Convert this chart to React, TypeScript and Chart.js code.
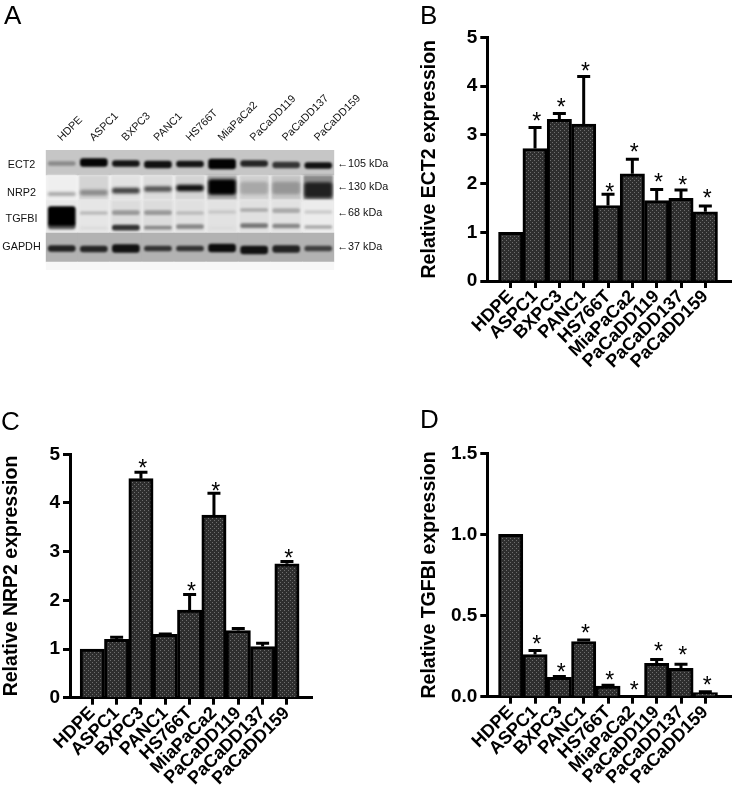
import React, { useEffect, useRef } from "react";
import { Chart, registerables } from "chart.js";

Chart.register(...registerables);

const cellLines = ["HDPE", "ASPC1", "BXPC3", "PANC1", "HS766T", "MiaPaCa2", "PaCaDD119", "PaCaDD137", "PaCaDD159"];

const ect2Values = [1, 2.72, 3.32, 3.22, 1.55, 2.2, 1.65, 1.7, 1.42];
const ect2ErrorTops = [1, 3.15, 3.44, 4.2, 1.78, 2.5, 1.88, 1.87, 1.54];
const ect2Stars = [null, 3.39, 3.68, 4.42, 1.92, 2.75, 2.13, 2.08, 1.8];

const nrp2Values = [1, 1.2, 4.5, 1.3, 1.8, 3.75, 1.38, 1.05, 2.75];
const nrp2ErrorTops = [1, 1.24, 4.63, 1.31, 2.12, 4.2, 1.42, 1.12, 2.8];
const nrp2Stars = [null, null, 4.82, null, 2.29, 4.34, null, null, 2.98];

const tgfbiValues = [1, 0.26, 0.12, 0.34, 0.065, 0, 0.205, 0.175, 0.025];
const tgfbiErrorTops = [1, 0.285, 0.125, 0.35, 0.07, 0, 0.23, 0.2, 0.03];
const tgfbiStars = [null, 0.355, 0.186, 0.423, 0.134, 0.07, 0.31, 0.285, 0.1];

// Blot: gel positions in rows, measured from the blot's top edge
const rowNames = ["ECT2", "NRP2", "TGFBI", "GAPDH"];
const rowNamePositions = [15, 42.7, 69, 96.7];
const kdaLabels = ["←105 kDa", "←130 kDa", "←68 kDa", "←37 kDa"];
const kdaPositions = [14, 37, 63, 96.7];

const ect2Center = [13.5, 12.5, 13.5, 14.5, 14, 14, 13.5, 15, 15.5];
const ect2Height = [4, 8, 6, 7, 6, 10, 6, 6, 6];
const ect2Shade = ["#8a8a8a", "#050505", "#151515", "#111111", "#151515", "#030303", "#252525", "#353535", "#111111"];

const nrp2Center = [44, 42.7, 40.7, 39, 38, 37, 38, 38, 40];
const nrp2Height = [3, 5, 5, 5, 6, 15, 12, 12, 15];
const nrp2Shade = ["#a0a0a0", "#8c8c8c", "#444444", "#555555", "#111111", "#020202", "#a8a8a8", "#969696", "#202020"];
const nrp2Lane = ["#efefef", "#d4d4d4", "#e2e2e2", "#dcdcdc", "#d4d4d4", "#a8a8a8", "#cfcfcf", "#c4c4c4", "#8a8a8a"];

const tgfbiUpperCenter = [66, 63, 62.7, 62.7, 63, 62, 60, 60.7, 62];
const tgfbiUpperHeight = [19, 3, 4, 4, 3, 3, 3, 4, 3];
const tgfbiUpperShade = ["#000000", "#bbbbbb", "#999999", "#999999", "#bbbbbb", "#c8c8c8", "#aaaaaa", "#aaaaaa", "#cccccc"];
const tgfbiLowerCenter = [76, 78, 77.7, 77.7, 76.7, 78, 75.7, 76, 77];
const tgfbiLowerHeight = [6, 3, 5, 3, 4, 3, 4, 4, 3];
const tgfbiLowerShade = ["#555555", "#dddddd", "#333333", "#888888", "#888888", "#dddddd", "#777777", "#888888", "#aaaaaa"];
const tgfbiLane = ["#e8e8e8", "#e6e6e6", "#dcdcdc", "#dcdcdc", "#e0e0e0", "#e2e2e2", "#e0e0e0", "#e2e2e2", "#ececec"];

const gapdhCenter = [98.5, 99, 98.5, 98.5, 98.5, 98, 100, 99, 98.5];
const gapdhHeight = [6, 6, 8, 5, 5, 8, 8, 7, 5];
const gapdhShade = ["#222222", "#252525", "#111111", "#333333", "#333333", "#0c0c0c", "#111111", "#222222", "#404040"];

const AXIS_FONT = "'Liberation Sans', Arial, sans-serif";

function checkerPattern(ctx: CanvasRenderingContext2D) {
  const tile = document.createElement("canvas");
  tile.width = 4;
  tile.height = 4;
  const t = tile.getContext("2d")!;
  t.fillStyle = "#2e2e2e";
  t.fillRect(0, 0, 4, 4);
  t.fillStyle = "#6e6e6e";
  t.fillRect(0, 0, 1, 1);
  t.fillRect(2, 2, 1, 1);
  return ctx.createPattern(tile, "repeat")!;
}

const noPadding = (s: any) => {
  s.paddingTop = 0;
  s.paddingBottom = 0;
  s.paddingLeft = 0;
  s.paddingRight = 0;
};

type PanelProps = {
  left: number;
  top: number;
  width: number;
  height: number;
  plot: { left: number; right: number; top: number; bottom: number };
  firstTick: number;
  title: string;
  values: number[];
  errorTops: number[];
  stars: (number | null)[];
  yMax: number;
  yStep: number;
  yDecimals: number;
  titlePad: number;
};

function BarPanel(p: PanelProps) {
  const ref = useRef<HTMLCanvasElement>(null);
  useEffect(() => {
    const canvas = ref.current!;
    const ctx = canvas.getContext("2d")!;
    const spacing = 24.33;
    const xMin = (p.plot.left - p.firstTick) / spacing;
    const xMax = (p.plot.right - p.firstTick) / spacing;
    const markers = {
      id: "markers",
      beforeDatasetsDraw(chart: any) {
        const c = chart.ctx;
        const { x, y } = chart.scales;
        c.save();
        c.strokeStyle = "#000";
        c.lineWidth = 3;
        p.errorTops.forEach((top, i) => {
          if (top <= p.values[i]) return;
          const px = x.getPixelForValue(i);
          const py = y.getPixelForValue(top);
          c.beginPath();
          c.moveTo(px, y.getPixelForValue(p.values[i]));
          c.lineTo(px, py);
          c.moveTo(px - 6.5, py);
          c.lineTo(px + 6.5, py);
          c.stroke();
        });
        c.restore();
      },
      afterDatasetsDraw(chart: any) {
        const c = chart.ctx;
        const { x, y } = chart.scales;
        c.save();
        c.fillStyle = "#000";
        c.font = `23px ${AXIS_FONT}`;
        c.textAlign = "center";
        c.textBaseline = "alphabetic";
        p.stars.forEach((s, i) => {
          if (s === null) return;
          c.fillText("*", x.getPixelForValue(i) + 1.8, y.getPixelForValue(s) + 13);
        });
        c.restore();
      },
    };
    const chart = new Chart(canvas, {
      type: "bar",
      data: {
        datasets: [
          {
            data: p.values.map((v, i) => ({ x: i, y: v })),
            backgroundColor: checkerPattern(ctx),
            borderColor: "#000",
            borderWidth: 3,
            barThickness: spacing,
          } as any,
        ],
      },
      plugins: [markers],
      options: {
        animation: false,
        responsive: false,
        layout: {
          padding: {
            left: 0,
            top: p.plot.top - p.top,
            right: p.left + p.width - p.plot.right,
            bottom: 0,
          },
        },
        plugins: { legend: { display: false }, tooltip: { enabled: false } },
        scales: {
          x: {
            type: "linear",
            offset: false,
            min: xMin,
            max: xMax,
            afterBuildTicks: (s: any) => {
              s.ticks = cellLines.map((_, i) => ({ value: i }));
            },
            afterFit: (s: any) => {
              s.height = p.top + p.height - p.plot.bottom;
              noPadding(s);
            },
            grid: { display: true, offset: false, drawOnChartArea: false, drawTicks: true, tickLength: 7, tickWidth: 3, tickColor: "#000" },
            border: { display: true, color: "#000", width: 3 },
            ticks: {
              autoSkip: false,
              maxRotation: 45,
              minRotation: 45,
              padding: -2,
              labelOffset: 0,
              color: "#000",
              font: { family: AXIS_FONT, size: 18, weight: "bold" },
              callback: (v: any) => cellLines[v as number],
            },
          },
          y: {
            type: "linear",
            min: 0,
            max: p.yMax,
            afterFit: (s: any) => {
              s.width = p.plot.left - p.left;
              noPadding(s);
            },
            grid: { display: true, drawOnChartArea: false, drawTicks: true, tickLength: 7, tickWidth: 3, tickColor: "#000" },
            border: { display: true, color: "#000", width: 3 },
            title: {
              display: true,
              text: p.title,
              color: "#000",
              padding: { top: p.titlePad, bottom: 0 },
              font: { family: AXIS_FONT, size: 19.5, weight: "bold" },
            },
            ticks: {
              stepSize: p.yStep,
              padding: 3,
              color: "#000",
              font: { family: AXIS_FONT, size: 19, weight: "bold" },
              callback: (v: any) => Number(v).toFixed(p.yDecimals),
            },
          },
        },
      } as any,
    });
    return () => chart.destroy();
  }, []);
  return (
    <canvas
      ref={ref}
      width={p.width}
      height={p.height}
      style={{ position: "absolute", left: p.left, top: p.top, width: p.width, height: p.height }}
    />
  );
}

const floating = (centers: number[], heights: number[]) => centers.map((c, i) => [c - heights[i] / 2, c + heights[i] / 2]);
const spanAll = (a: number, b: number) => cellLines.map(() => [a, b]);

function band(label: string, centers: number[], heights: number[], shades: string[], order: number, blur: number, thickness = 27) {
  return {
    label,
    data: floating(centers, heights),
    backgroundColor: shades,
    borderWidth: 0,
    borderRadius: 3,
    borderSkipped: false,
    barThickness: thickness,
    grouped: false,
    order,
    blur,
  };
}

function lane(label: string, a: number, b: number, shades: string | string[], order: number, blur: number, thickness?: number) {
  return {
    label,
    data: spanAll(a, b),
    backgroundColor: shades,
    borderWidth: 0,
    barPercentage: 1,
    categoryPercentage: 1,
    ...(thickness ? { barThickness: thickness } : {}),
    grouped: false,
    order,
    blur,
  };
}

function BlotPanel() {
  const ref = useRef<HTMLCanvasElement>(null);
  useEffect(() => {
    const blurPlugin = {
      id: "bandBlur",
      beforeDatasetDraw(chart: any, args: any) {
        const b = chart.data.datasets[args.index].blur;
        chart.ctx.save();
        if (b) chart.ctx.filter = `blur(${b}px)`;
      },
      afterDatasetDraw(chart: any) {
        chart.ctx.restore();
      },
    };
    const chart = new Chart(ref.current!, {
      type: "bar",
      data: {
        labels: cellLines,
        datasets: [
          lane("ect2Ground", 0, 25, "#c6c6c6", 100, 0),
          lane("nrp2Ground", 25, 50, "#f4f4f4", 100, 0),
          lane("tgfbiGround", 50, 83, "#ededed", 100, 0),
          lane("nrp2Lane", 25.5, 49.5, nrp2Lane, 99, 0.8, 29),
          lane("tgfbiLane", 50.5, 82.5, tgfbiLane, 98, 0.8, 29),
          lane("gapdhGround", 83, 112, "#b2b2b2", 97, 0),
          lane("fade", 112, 120, "#f7f7f7", 96, 0),
          band("ECT2", ect2Center, ect2Height, ect2Shade, 50, 1.2),
          band("NRP2", nrp2Center, nrp2Height, nrp2Shade, 49, 1.4),
          band("TGFBI", tgfbiUpperCenter, tgfbiUpperHeight, tgfbiUpperShade, 47, 1.3),
          band("TGFBIlow", tgfbiLowerCenter, tgfbiLowerHeight, tgfbiLowerShade, 48, 1.2),
          band("GAPDH", gapdhCenter, gapdhHeight, gapdhShade, 46, 1.2),
        ] as any,
      },
      plugins: [blurPlugin],
      options: {
        animation: false,
        responsive: false,
        layout: { padding: { left: 0, top: 0, right: 0, bottom: 0 } },
        plugins: { legend: { display: false }, tooltip: { enabled: false } },
        scales: {
          x: {
            position: "top",
            offset: true,
            afterFit: (s: any) => {
              s.height = 150;
              noPadding(s);
            },
            grid: { display: false },
            border: { display: false },
            ticks: {
              autoSkip: false,
              maxRotation: 45,
              minRotation: 45,
              padding: -2,
              labelOffset: 7,
              color: "#111",
              font: { family: AXIS_FONT, size: 10.8 },
            },
          },
          y: {
            reverse: true,
            min: 0,
            max: 120,
            afterBuildTicks: (s: any) => {
              s.ticks = rowNamePositions.map((v) => ({ value: v }));
            },
            afterFit: (s: any) => {
              s.width = 45.7;
              noPadding(s);
            },
            grid: { display: false },
            border: { display: false },
            ticks: {
              autoSkip: false,
              crossAlign: "center",
              padding: -3,
              color: "#111",
              font: { family: AXIS_FONT, size: 10.8 },
              callback: (_: any, i: number) => rowNames[i],
            },
          },
          kda: {
            position: "right",
            reverse: true,
            min: 0,
            max: 120,
            afterBuildTicks: (s: any) => {
              s.ticks = kdaPositions.map((v) => ({ value: v }));
            },
            afterFit: (s: any) => {
              s.width = 400 - 334.3;
              noPadding(s);
            },
            grid: { display: false },
            border: { display: false },
            ticks: {
              autoSkip: false,
              padding: -5,
              color: "#111",
              font: { family: AXIS_FONT, size: 10.8 },
              callback: (_: any, i: number) => kdaLabels[i],
            },
          },
        },
      } as any,
    });
    return () => chart.destroy();
  }, []);
  return (
    <canvas ref={ref} width={400} height={270} style={{ position: "absolute", left: 0, top: 0, width: 400, height: 270 }} />
  );
}

const panelLetters = [
  { text: "A", x: 4, y: 0 },
  { text: "B", x: 420, y: 0 },
  { text: "C", x: 1, y: 406 },
  { text: "D", x: 420, y: 404 },
];

export default function App() {
  return (
    <div style={{ position: "absolute", left: 0, top: 0, width: 733, height: 793, background: "#fff", overflow: "hidden" }}>
      <BlotPanel />
      <BarPanel
        left={410}
        top={0}
        width={323}
        height={400}
        plot={{ left: 487.3, right: 731.7, top: 37.5, bottom: 281 }}
        firstTick={510.7}
        title="Relative ECT2 expression"
        values={ect2Values}
        errorTops={ect2ErrorTops}
        stars={ect2Stars}
        yMax={5}
        yStep={1}
        yDecimals={0}
        titlePad={8}
      />
      <BarPanel
        left={0}
        top={410}
        width={320}
        height={383}
        plot={{ left: 70, right: 312.7, top: 454.3, bottom: 697.7 }}
        firstTick={92.3}
        title="Relative NRP2 expression"
        values={nrp2Values}
        errorTops={nrp2ErrorTops}
        stars={nrp2Stars}
        yMax={5}
        yStep={1}
        yDecimals={0}
        titlePad={0}
      />
      <BarPanel
        left={410}
        top={410}
        width={323}
        height={383}
        plot={{ left: 487.3, right: 731.7, top: 453.3, bottom: 696.7 }}
        firstTick={510.7}
        title="Relative TGFBI expression"
        values={tgfbiValues}
        errorTops={tgfbiErrorTops}
        stars={tgfbiStars}
        yMax={1.5}
        yStep={0.5}
        yDecimals={1}
        titlePad={8}
      />
      {panelLetters.map((l) => (
        <div
          key={l.text}
          style={{
            position: "absolute",
            left: l.x,
            top: l.y,
            fontFamily: AXIS_FONT,
            fontSize: 26,
            lineHeight: "30px",
            color: "#000",
          }}
        >
          {l.text}
        </div>
      ))}
    </div>
  );
}
